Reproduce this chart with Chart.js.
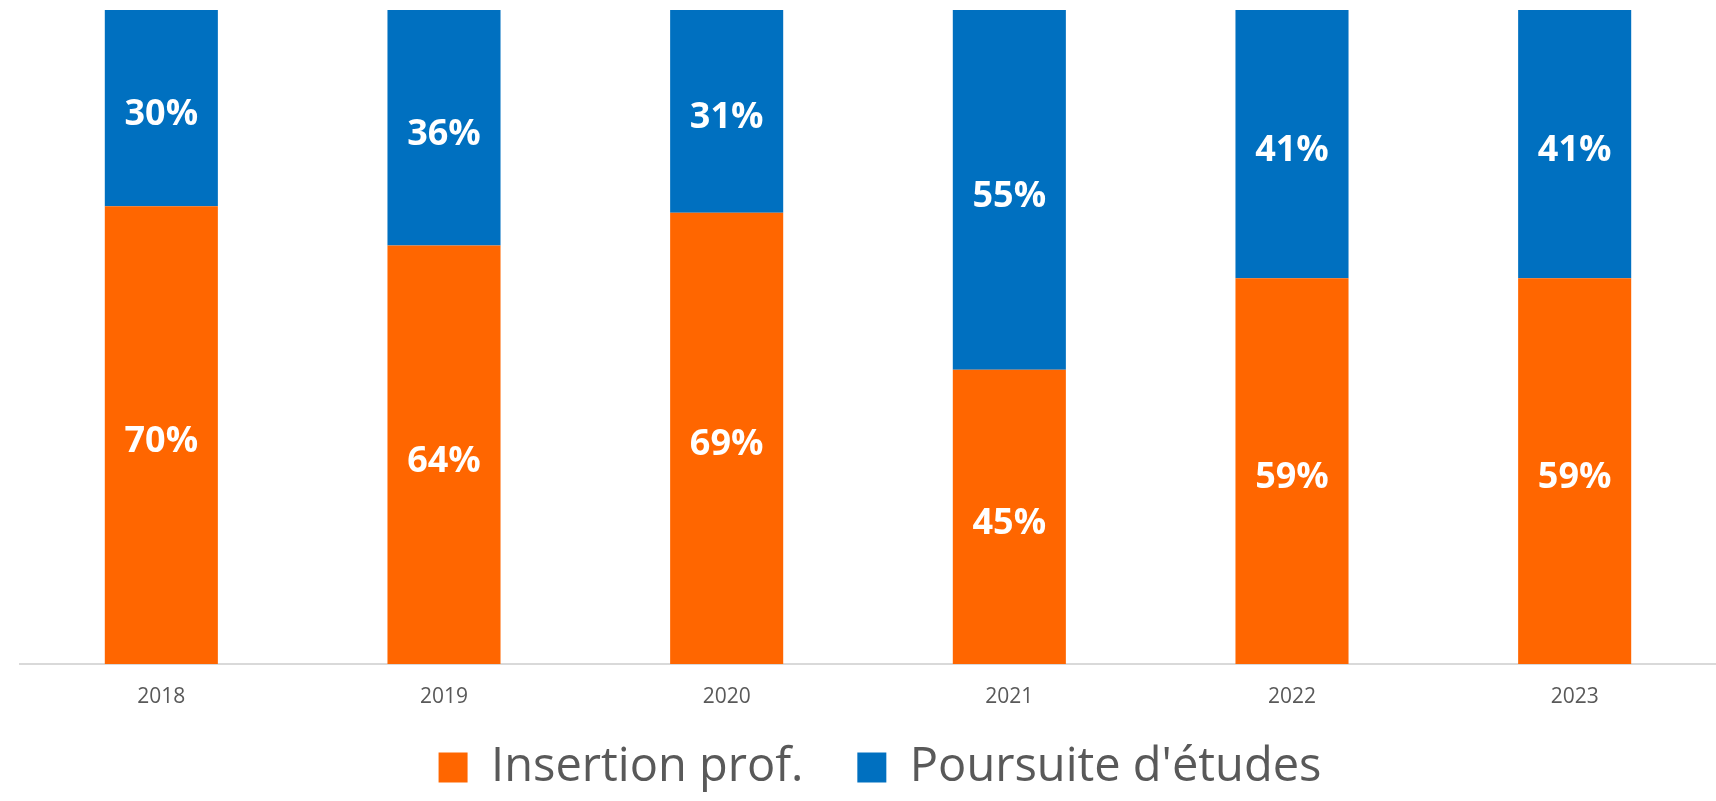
<!DOCTYPE html>
<html>
<head>
<meta charset="utf-8">
<script src="https://cdn.jsdelivr.net/npm/chart.js@4.4.1/dist/chart.umd.min.js"></script>
<style>
  html, body { margin: 0; padding: 0; background: #ffffff; }
  #wrap { width: 1716px; height: 801px; }
</style>
</head>
<body>
<div id="wrap"><canvas id="c" width="1716" height="801"></canvas></div>
<script>
const categories = ['2018', '2019', '2020', '2021', '2022', '2023'];
const insertionProf = [70, 64, 69, 45, 59, 59];
const poursuiteEtudes = [30, 36, 31, 55, 41, 41];
const seriesNames = ['Insertion prof.', "Poursuite d'études"];
const seriesColors = ['#FF6600', '#0070C0'];

const valueLabels = {
  id: 'valueLabels',
  afterDatasetsDraw(chart) {
    const ctx = chart.ctx;
    ctx.save();
    ctx.fillStyle = '#ffffff';
    ctx.font = 'bold 36px "Open Sans"';
    ctx.textAlign = 'center';
    ctx.textBaseline = 'alphabetic';
    chart.data.datasets.forEach((ds, di) => {
      const meta = chart.getDatasetMeta(di);
      meta.data.forEach((el, i) => {
        const p = el.getProps(['x', 'y', 'base'], true);
        ctx.fillText(ds.data[i] + '%', p.x, (p.y + p.base) / 2 + 17);
      });
    });
    ctx.restore();
  }
};

const layoutTweak = {
  id: 'layoutTweak',
  afterLayout(chart) {
    // let x tick labels extend below the compact axis box, nudge legend centre
    chart.scales.x.bottom = chart.height;
    if (chart.legend) { chart.legend.left += 24; }
  }
};

new Chart(document.getElementById('c'), {
  type: 'bar',
  data: {
    labels: categories,
    datasets: [
      { label: seriesNames[0], data: insertionProf, backgroundColor: seriesColors[0] },
      { label: seriesNames[1], data: poursuiteEtudes, backgroundColor: seriesColors[1] }
    ]
  },
  options: {
    responsive: false,
    animation: false,
    devicePixelRatio: 1,
    layout: { padding: { top: 10, left: 20, right: 0, bottom: 0 } },
    datasets: { bar: { categoryPercentage: 1.0, barPercentage: 0.4 } },
    scales: {
      x: {
        stacked: true,
        grid: { display: false, drawTicks: false },
        border: { display: true, color: '#d9d9d9', width: 2 },
        ticks: { color: '#595959', font: { family: '"Open Sans"', size: 21 }, padding: 20 },
        afterFit(scale) { scale.height = 26; }
      },
      y: {
        stacked: true,
        min: 0,
        max: 100,
        display: false
      }
    },
    plugins: {
      tooltip: { enabled: false },
      legend: {
        position: 'bottom',
        labels: {
          color: '#595959',
          font: { family: '"Open Sans"', size: 47 },
          boxWidth: 29,
          boxHeight: 30,
          padding: 54
        }
      }
    }
  },
  plugins: [valueLabels, layoutTweak]
});
</script>
</body>
</html>
